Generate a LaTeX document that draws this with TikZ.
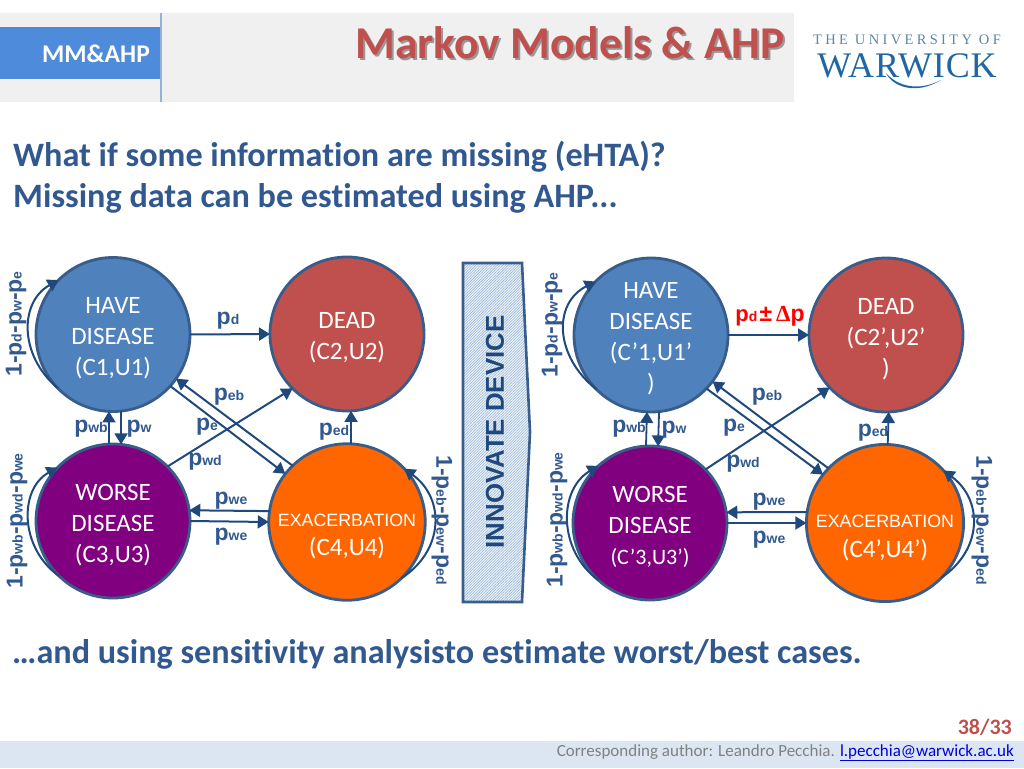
\documentclass[tikz,border=0pt]{standalone}
\usepackage{fontspec}
\setmainfont[Ligatures=NoCommon]{Carlito}
\newfontfamily\arialf{Liberation Sans}
\newfontfamily\timesf{Liberation Serif}
\usetikzlibrary{arrows.meta,patterns.meta}
\definecolor{navy}{HTML}{1F497D}
\definecolor{edgeb}{HTML}{385D8A}
\definecolor{bodyb}{HTML}{31598F}
\definecolor{cblue}{HTML}{4F81BD}
\definecolor{cred}{HTML}{C0504D}
\definecolor{cpurple}{HTML}{800080}
\definecolor{corange}{HTML}{FF6600}
\definecolor{tabblue}{HTML}{4F8BDB}
\definecolor{warblue}{HTML}{1F66A3}
\definecolor{wargrey}{HTML}{5C85A6}
\newcommand{\fs}[1]{\fontsize{#1}{#1}\selectfont}
\newcommand{\plab}[1]{{\arialf\bfseries\fs{23}p\fs{14}#1}}
\newcommand{\ohyph}{{\arialf\bfseries\fs{23}-}}
\newcommand{\ohone}{{\arialf\bfseries\fs{23}1-}}
\newcommand{\lift}{\rule{0pt}{24pt}}
\tikzset{
  x=1pt,y=-1pt,
  state/.style={circle,draw=edgeb,line width=2.8pt,minimum size=154pt,inner sep=0pt,outer sep=0pt,text=white,align=center,font=\fontsize{25}{31}\selectfont},
  flow/.style={draw=navy,line width=2pt,-{Triangle[length=11pt,width=13pt]}},
  thinflow/.style={flow,line width=1.8pt},
  plabel/.style={text=bodyb,inner sep=0pt},
  heading/.style={text=bodyb,anchor=west,inner sep=0pt,font=\fontsize{34.2}{34.2}\selectfont\bfseries},
}
\begin{document}
\begin{tikzpicture}
\useasboundingbox (0,0) rectangle (1024,768);
% header
\fill[black!6] (0,13) rectangle (794,102);
\fill[tabblue] (0,27) rectangle (160,79);
\draw[color=cblue!60!white,line width=1.5pt] (161,13) -- (161,102);
\node[text=white,inner sep=0pt,font=\fontsize{25.5}{25.5}\selectfont\bfseries] (tab) at (96,54) {MM\&AHP};
\node[text=black!40,inner sep=0pt,font=\fontsize{45.5}{45.5}\selectfont\bfseries] (titleshadow) at (572,45) {Markov Models \& AHP};
\node[text=cred,inner sep=0pt,font=\fontsize{45.5}{45.5}\selectfont\bfseries] (title) at (570,43) {Markov Models \& AHP};
% logo
\node[text=wargrey,inner sep=0pt,font=\timesf\fontsize{14.5}{14.5}\selectfont\addfontfeature{LetterSpace=23}] (logoa) at (907,40) {THE UNIVERSITY OF};
\node[text=warblue,inner sep=0pt,font=\timesf\fontsize{36}{36}\selectfont\addfontfeature{LetterSpace=2.5}] (logob) at (907,66) {WARWICK};
\fill[warblue] (886,73) .. controls (892,86) and (915,96) .. (941,80) .. controls (918,92) and (897,86) .. (886,73) -- cycle;
% headings
\node[heading] (h1) at (13,156.5) {What if some information are missing (eHTA)?};
\node[heading] (h2) at (13,198.5) {Missing data can be estimated using AHP...};
\node[heading] (h3) at (12,654.5) {…and using sensitivity analysisto estimate worst/best cases.};
% left states
\node[state,fill=cblue] (c1) at (113,334.5) {\lift HAVE\\DISEASE\\(C1,U1)};
\node[state,fill=cred] (c2) at (347,334) {\lift DEAD\\(C2,U2)};
\node[state,fill=cpurple] (c3) at (113,521) {\lift WORSE\\DISEASE\\(C3,U3)};
\node[state,fill=corange] (c4) at (347,522) {\rule{0pt}{42pt}{\arialf\fs{17.8}EXACERBATION}\\[-2pt](C4,U4)};
% right states
\node[state,fill=cblue] (r1) at (651,335) {\lift HAVE\\DISEASE\\(C’1,U1’\\)};
\node[state,fill=cred] (r2) at (886,335) {\lift DEAD\\(C2’,U2’\\)};
\node[state,fill=cpurple] (r3) at (650,523) {\lift WORSE\\DISEASE\\{\fontsize{22}{31}\selectfont(C’3,U3’)}};
\node[state,fill=corange] (r4) at (885,523) {\rule{0pt}{42pt}{\arialf\fs{17.8}EXACERBATION}\\[-1pt](C4’,U4’)};
% left arrows
\draw[flow] (c1.east) -- (c2.west);
\draw[flow] (c1.-42) -- (c4.142);
\draw[flow] (c4.134) -- (c1.-35);
\draw[flow] (c3.45) -- (c2.-135);
\draw[flow] (c4.172) -- (c3.8);
\draw[flow] (c3.east) -- (c4.west);
\draw[thinflow] (c3.93) -- (c1.-93);
\draw[thinflow] (c1.-84) -- (c3.84);
\draw[thinflow] (c4.87) -- (c2.-87);
\draw[flow] (c1.224) .. controls +(-39,-33) and +(-39,22) .. (c1.135);
\draw[flow] (c3.226) .. controls +(-40,-28) and +(-39,22) .. (c3.136);
\draw[flow] (c4.-46) .. controls +(43,-28) and +(41,30) .. (c4.43);
% right arrows
\draw[flow] (r1.east) -- (r2.west);
\draw[flow] (r1.-44) -- (r4.142);
\draw[flow] (r4.136) -- (r1.-37);
\draw[flow] (r3.44) -- (r2.-137);
\draw[flow] (r4.172) -- (r3.8);
\draw[flow] (r3.east) -- (r4.west);
\draw[thinflow] (r3.93) -- (r1.-93);
\draw[thinflow] (r1.-84) -- (r3.84);
\draw[thinflow] (r4.88) -- (r2.-88);
\draw[flow] (r1.225) .. controls +(-42,-33) and +(-43,22) .. (r1.136);
\draw[flow] (r3.228) .. controls +(-41,-30) and +(-40,24) .. (r3.132);
\draw[flow] (r4.-44) .. controls +(41,-28) and +(40,30) .. (r4.42);
% device
\fill[cblue!10] (463,263) -- (522,263) -- (530,432) -- (522,602) -- (463,602) -- cycle;
\path[pattern={Lines[angle=45,distance=1.9pt,line width=.55pt]},pattern color=cblue!60] (463,263) -- (522,263) -- (530,432) -- (522,602) -- (463,602) -- cycle;
\draw[draw=edgeb,line width=2.6pt] (463,263) -- (522,263) -- (530,432) -- (522,602) -- (463,602) -- cycle;
\node[rotate=90,text=navy,inner sep=0pt,font=\arialf\bfseries\fs{25.8}] (device) at (495,432) {INNOVATE DEVICE};
% left labels
\node[plabel] (l1) at (228,321) {\plab{d}};
\node[plabel] (l2) at (229,397) {\plab{eb}};
\node[plabel] (l3) at (207,427) {\plab{e}};
\node[plabel] (l4) at (205,462) {\plab{wd}};
\node[plabel] (l5) at (91,429) {\plab{wb}};
\node[plabel] (l6) at (139,429) {\plab{w}};
\node[plabel] (l7) at (231,501) {\plab{we}};
\node[plabel] (l8) at (231,537) {\plab{we}};
\node[plabel] (l9) at (334,432) {\plab{ed}};
\node[plabel,rotate=90] (l10) at (16,324) {\ohone\plab{d}\ohyph\plab{w}\ohyph\plab{e}};
\node[plabel,rotate=90] (l11) at (17,521) {\ohone\plab{wb}\ohyph\plab{wd}\ohyph\plab{we}};
\node[plabel,rotate=-90] (l12) at (442,520) {\ohone\plab{eb}\ohyph\plab{ew}\ohyph\plab{ed}};
% right labels
\node[text=red,inner sep=0pt] (r0) at (770,316) {{\arialf\bfseries\fs{22}p\fs{14}d\,\fs{23}±\,}{\timesf\bfseries\fs{23}Δ}{\arialf\bfseries\fs{23}p}};
\node[plabel] (m2) at (767,397) {\plab{eb}};
\node[plabel] (m3) at (734,428) {\plab{e}};
\node[plabel] (m4) at (743,464) {\plab{wd}};
\node[plabel] (m5) at (629,429) {\plab{wb}};
\node[plabel] (m6) at (674,430) {\plab{w}};
\node[plabel] (m7) at (769,502) {\plab{we}};
\node[plabel] (m8) at (769,540) {\plab{we}};
\node[plabel] (m9) at (873,433) {\plab{ed}};
\node[plabel,rotate=90] (m10) at (552,325) {\ohone\plab{d}\ohyph\plab{w}\ohyph\plab{e}};
\node[plabel,rotate=90] (m11) at (557,520) {\ohone\plab{wb}\ohyph\plab{wd}\ohyph\plab{we}};
\node[plabel,rotate=-90] (m12) at (982,520) {\ohone\plab{eb}\ohyph\plab{ew}\ohyph\plab{ed}};
% footer
\node[text=cred,anchor=east,inner sep=0pt,font=\fontsize{22}{22}\selectfont\bfseries] (page) at (1012,727) {38/33};
\fill[cblue!20] (0,741) rectangle (1024,768);
\node[anchor=east,inner sep=0pt,text=black!50,font=\fontsize{17}{17}\selectfont] (foot) at (1014,753) {Corresponding author: Leandro Pecchia. \textcolor{blue!85!black}{\underline{l.pecchia@warwick.ac.uk}}};
\end{tikzpicture}
\end{document}
